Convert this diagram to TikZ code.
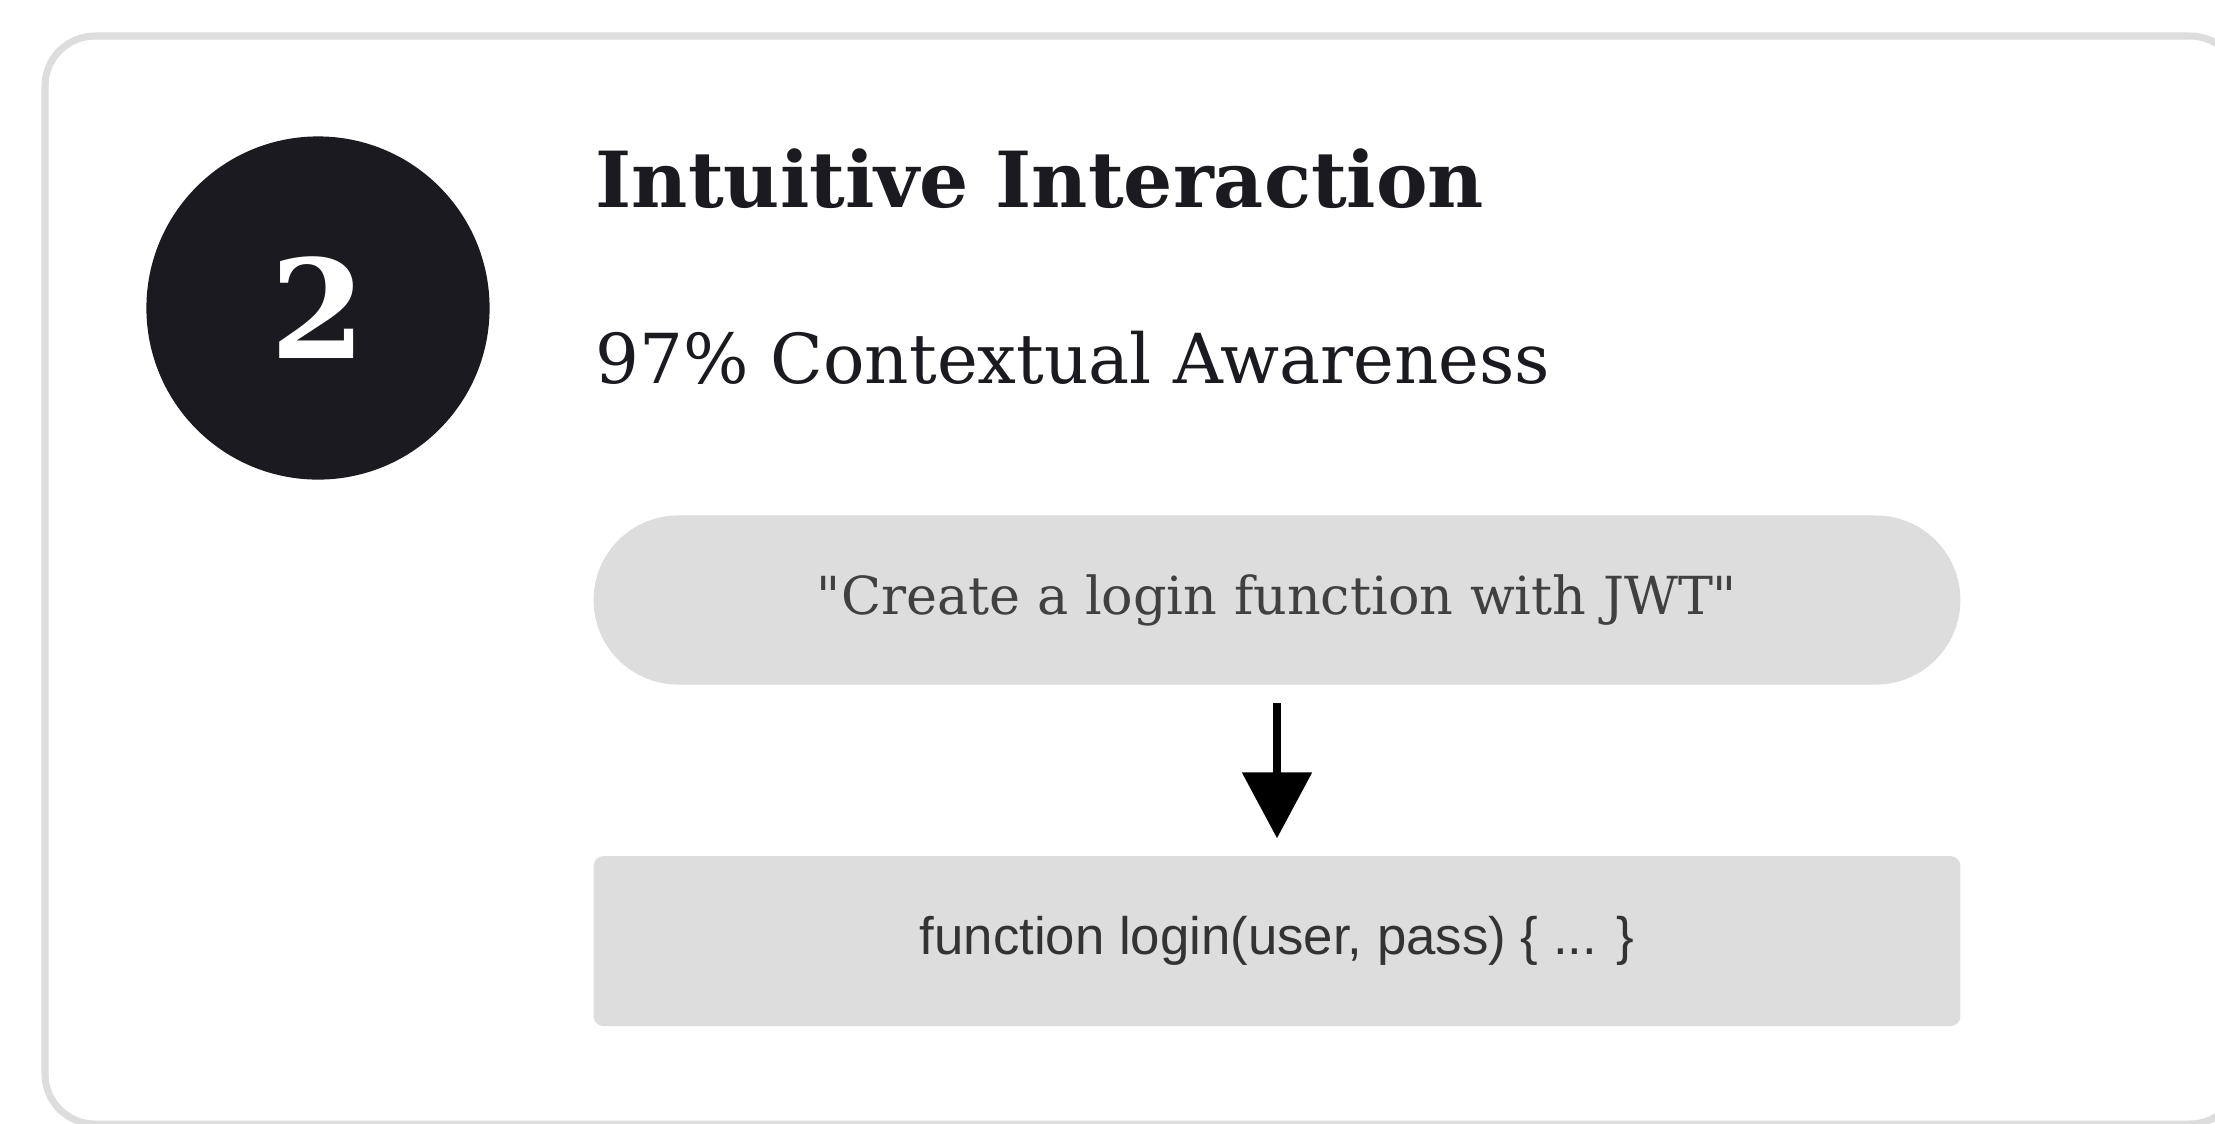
\documentclass[tikz,border=0pt]{standalone}
\usepackage{fontspec}
\setmainfont{DejaVu Serif}
\setsansfont{Liberation Sans}
\usetikzlibrary{positioning}
\usetikzlibrary{arrows.meta}
\definecolor{cardline}{RGB}{221,221,221}
\definecolor{boxfill}{RGB}{221,221,221}
\definecolor{ink}{RGB}{26,26,32}

\begin{document}
\begin{tikzpicture}[x=0.01cm, y=-0.01cm, >={Triangle[length=0.66cm,width=0.68cm]},
badge/.style={circle,fill=ink,text=white,minimum size=3.43cm,inner sep=0pt,font=\bfseries\fontsize{39}{39}\selectfont},
heading/.style={anchor=base west,inner sep=0pt,text=ink},
pill/.style={rectangle,rounded corners=0.845cm,fill=boxfill,minimum width=13.66cm,minimum height=1.69cm,text=black!75,font=\fontsize{14.9}{14.9}\selectfont},
codebox/.style={rectangle,rounded corners=0.1cm,fill=boxfill,minimum width=13.66cm,minimum height=1.70cm,text=black!80,font=\sffamily\fontsize{15}{15}\selectfont}]
\useasboundingbox (0,0) rectangle (2215,1123);
\fill[white] (0,0) rectangle (2215,1123);

% card
\draw[line width=2pt, cardline, fill=white, rounded corners=0.5cm] (45,36) rectangle (2240,1124);

% step number
\node[badge] (step) at (318,308) {2};

% headings
\node[heading, font=\bfseries\fontsize{22}{22}\selectfont] (title) at (595,207) {Intuitive Interaction};
\node[heading, font=\fontsize{19.6}{19.6}\selectfont] (subtitle) at (595,383) {97\% Contextual Awareness};

% prompt -> code
\node[pill] (prompt) at (1277,600) {\textquotedbl Create a login function with JWT\textquotedbl};
\node[codebox, below=1.70cm of prompt] (code) {function login(user, pass) \{ ... \}};
\draw[->, line width=2.5pt, shorten <=0.18cm, shorten >=0.17cm] (prompt) -- (code);

\end{tikzpicture}
\end{document}
